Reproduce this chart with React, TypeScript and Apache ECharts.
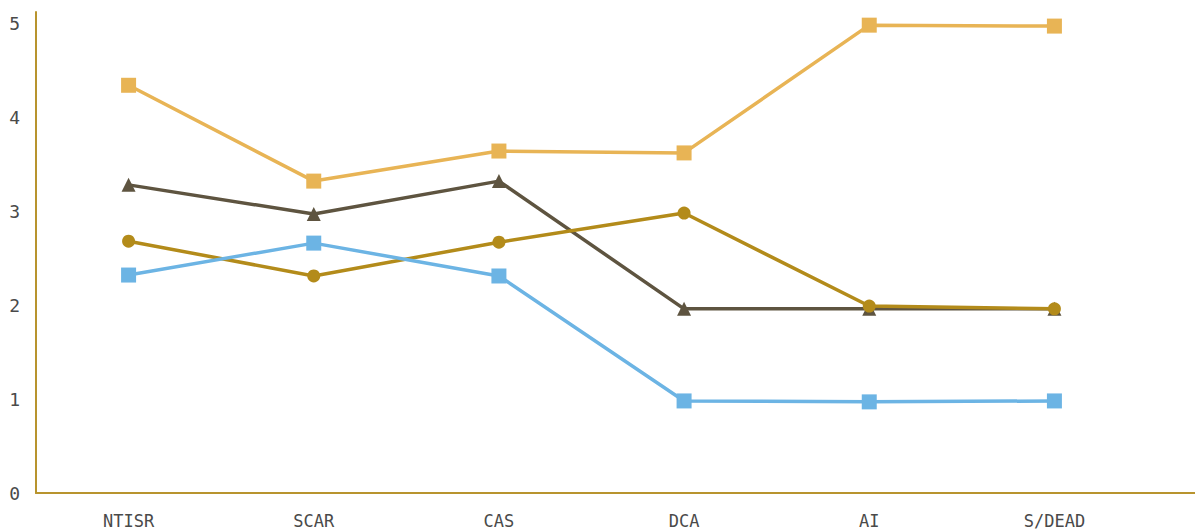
import React, { useEffect, useRef } from "react";
import * as echarts from "echarts";

const categories = ["NTISR", "SCAR", "CAS", "DCA", "AI", "S/DEAD"];
const orangeValues = [4.34, 3.32, 3.64, 3.62, 4.98, 4.97];
const brownValues = [3.28, 2.97, 3.32, 1.96, 1.96, 1.96];
const goldValues = [2.68, 2.31, 2.67, 2.98, 1.99, 1.96];
const blueValues = [2.32, 2.66, 2.31, 0.98, 0.97, 0.98];

export default function App() {
  const ref = useRef<HTMLDivElement>(null);
  useEffect(() => {
    if (!ref.current) return;
    const chart = echarts.init(ref.current, null, { renderer: "svg" });
    const axisColor = "#B8942E";
    const labelFont = "DejaVu Sans Mono";
    const mk = (name: string, data: number[], color: string, symbol: string, size: number) => ({
      name,
      type: "line",
      data,
      symbol,
      symbolSize: size,
      lineStyle: { color, width: 3.5 },
      itemStyle: { color },
      z: 3,
    });
    chart.setOption({
      animation: false,
      grid: { left: 28, right: 48, top: 4, bottom: 38, outerBoundsMode: "none", containLabel: false },
      xAxis: {
        type: "category",
        data: categories,
        boundaryGap: true,
        axisLine: { lineStyle: { color: axisColor, width: 2 } },
        axisTick: { show: false },
        axisLabel: { color: "#4a4a4a", fontSize: 17, lineHeight: 17, fontFamily: labelFont, margin: 19 },
      },
      yAxis: {
        type: "value",
        min: 0,
        max: 5.12,
        interval: 1,
        splitLine: { show: false },
        axisLine: { show: true, lineStyle: { color: axisColor, width: 2 } },
        axisTick: { show: false },
        axisLabel: {
          color: "#4a4a4a",
          fontSize: 18,
          fontFamily: labelFont,
          margin: 16,
          formatter: (v: number) => (Number.isInteger(v) ? String(v) : ""),
        },
      },
      graphic: [
        {
          type: "line",
          shape: { x1: 1139, y1: 485, x2: 1195, y2: 485 },
          style: { stroke: axisColor, lineWidth: 2 },
        },
      ],
      series: [
        mk("Orange", orangeValues, "#E8B455", "rect", 15),
        mk("Brown", brownValues, "#5E5440", "triangle", 14),
        mk("Gold", goldValues, "#B38B1A", "circle", 13),
        mk("Blue", blueValues, "#6CB4E4", "rect", 15),
      ],
    });
    return () => chart.dispose();
  }, []);
  return <div ref={ref} style={{ width: 1187, height: 523 }} />;
}
